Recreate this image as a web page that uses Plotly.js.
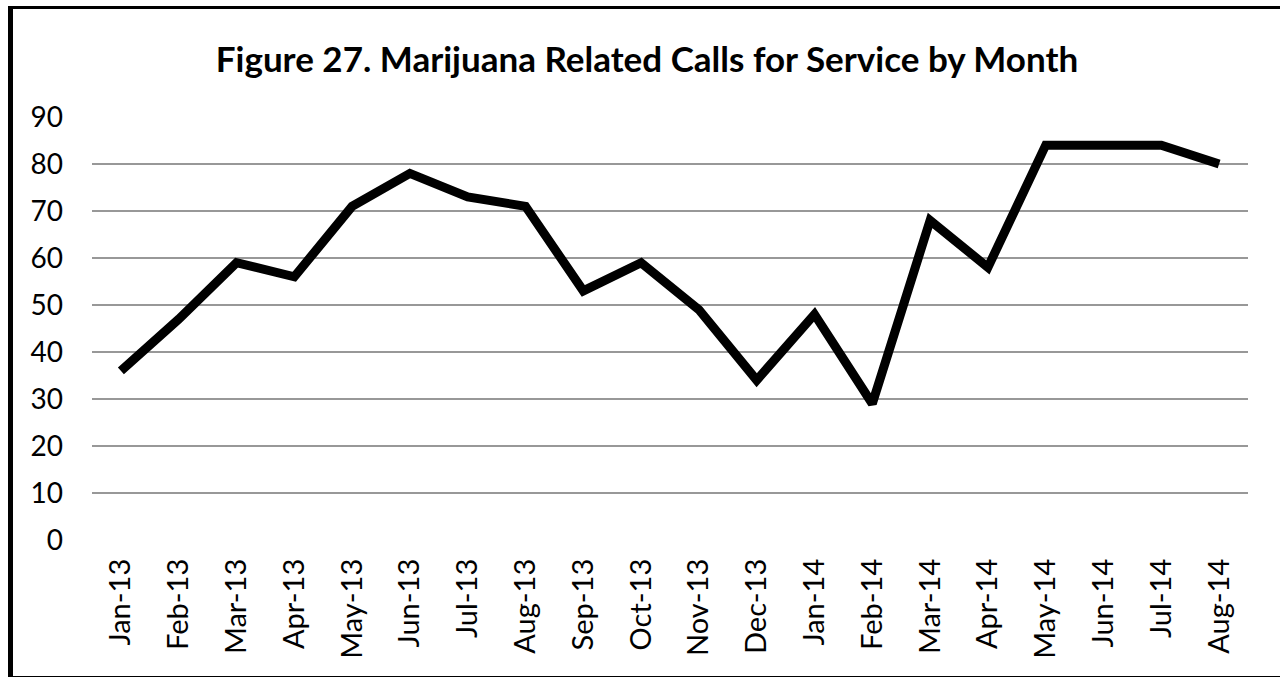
<!DOCTYPE html>
<html>
<head>
<meta charset="utf-8">
<script src="https://cdn.plot.ly/plotly-3.0.1.min.js"></script>
<style>
html,body{margin:0;padding:0;background:#fff;}
#wrap{position:relative;width:1280px;height:677px;overflow:hidden;}
#chart{width:1280px;height:677px;}
#frame{position:absolute;left:8px;top:6px;width:1280px;height:667px;border-top:3px solid #000;border-left:5px solid #000;border-bottom:2px solid #000;pointer-events:none;}
</style>
</head>
<body>
<div id="wrap">
<div id="chart"></div>
<div id="frame"></div>
</div>
<script>
const months = ["Jan-13","Feb-13","Mar-13","Apr-13","May-13","Jun-13","Jul-13","Aug-13","Sep-13","Oct-13","Nov-13","Dec-13","Jan-14","Feb-14","Mar-14","Apr-14","May-14","Jun-14","Jul-14","Aug-14"];
const calls = [36,47,59,56,71,78,73,71,53,59,49,34,48,29,68,58,84,84,84,80];
const yTicks = [0,10,20,30,40,50,60,70,80,90];
const titleText = "Figure 27. Marijuana Related Calls for Service by Month";

const font = "Lato, 'Open Sans', sans-serif";
Plotly.newPlot("chart", [{
  type: "scatter",
  mode: "lines",
  x: months,
  y: calls,
  line: {color: "#000000", width: 9, shape: "linear"},
  hoverinfo: "x+y"
}], {
  width: 1280, height: 677,
  paper_bgcolor: "#fff", plot_bgcolor: "#fff",
  margin: {l: 92, r: 32, t: 117, b: 137},
  showlegend: false,
  title: {text: "<b>" + titleText + "</b>", x: 647/1280, xanchor: "center", y: 1 - 60/677, yanchor: "middle",
          font: {family: font, size: 35, color: "#000"}},
  xaxis: {type: "category", categoryorder: "array", categoryarray: months,
          range: [-0.5, months.length - 0.5],
          tickangle: -90, tickfont: {family: font, size: 29, color: "#000"},
          showgrid: false, zeroline: false, showline: false, ticks: "", ticklabelstandoff: 12},
  yaxis: {range: [0, 90], tickvals: yTicks, ticktext: yTicks.map(String),
          tickfont: {family: font, size: 28, color: "#000"},
          showgrid: true, gridcolor: "#989898", gridwidth: 2, zeroline: false, showline: false,
          ticks: "", ticklabelstandoff: 28},
}, {displayModeBar: false, staticPlot: true});
</script>
</body>
</html>
